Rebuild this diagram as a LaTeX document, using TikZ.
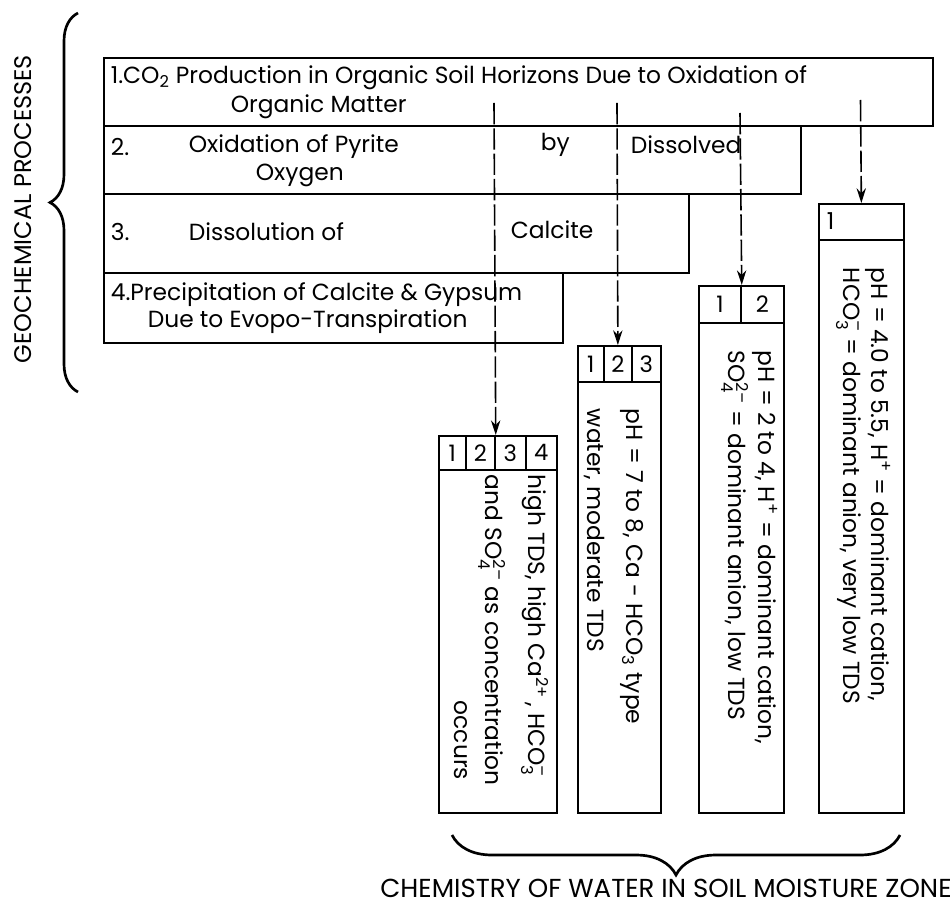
\documentclass[tikz,border=0pt]{standalone}
\usepackage{amsmath}
\usepackage{fontspec}
\setmainfont{Poppins}
\usetikzlibrary{arrows.meta, decorations.pathreplacing}

\newcommand{\px}{0.75pt}

\begin{document}
\begin{tikzpicture}[x=0.75pt, y=-0.75pt, line width=1.3pt,
    txt/.style={anchor=west, inner sep=0pt, font=\fontsize{17.5}{20}\selectfont},
    vtxt/.style={txt, rotate=-90},
    pbox/.style 2 args={draw, rectangle, anchor=north west, inner sep=0pt,
      minimum width=#1*\px, minimum height=#2*\px, font=\fontsize{17}{20}\selectfont},
    feed/.style={line width=1.2pt, dash pattern=on 16pt off 3pt, -{Stealth[length=11pt, width=7pt]}},
    bigbrace/.style={decorate, decoration={brace, amplitude=#1}, line width=2pt}]
  \useasboundingbox (0,0) rectangle (952,923);

  % Geochemical processes
  \node[pbox={829}{68}] (p1) at (103,57) {};
  \node[pbox={697}{68}] (p2) at (103,125) {};
  \node[pbox={585}{79}] (p3) at (103,193) {};
  \node[pbox={459}{70}] (p4) at (103,272) {};

  \node[txt] (p1a) at (110,78) {1.CO$_{\text{2}}$ Production in Organic Soil Horizons Due to Oxidation of};
  \node[txt] (p1b) at (230,107) {Organic Matter};
  \node[txt] (p2a) at (110,147) {2.};
  \node[txt] (p2b) at (188,147) {Oxidation of Pyrite};
  \node[txt] (p2c) at (540,145) {by};
  \node[txt] (p2d) at (630,145) {Dissolved};
  \node[txt] (p2e) at (255,175) {Oxygen};
  \node[txt] (p3a) at (110,232) {3.};
  \node[txt] (p3b) at (188,232) {Dissolution of};
  \node[txt] (p3c) at (510,230) {Calcite};
  \node[txt] (p4a) at (110,295) {4.Precipitation of Calcite \& Gypsum};
  \node[txt] (p4b) at (147,322) {Due to Evopo-Transpiration};

  % Water chemistry columns
  \node[pbox={27}{34}] (a1) at (438,435) {1};
  \node[pbox={29}{34}] (a2) at (465,435) {2};
  \node[pbox={31}{34}] (a3) at (494,435) {3};
  \node[pbox={31}{34}] (a4) at (525,435) {4};
  \node[pbox={118}{343}] (colA) at (438,469) {};

  \node[pbox={26}{36}] (b1) at (577,345) {1};
  \node[pbox={28}{36}] (b2) at (603,345) {2};
  \node[pbox={29}{36}] (b3) at (631,345) {3};
  \node[pbox={83}{431}] (colB) at (577,381) {};

  \node[pbox={42}{37}] (c1) at (698,285) {1};
  \node[pbox={43}{37}] (c2) at (740,285) {2};
  \node[pbox={85}{490}] (colC) at (698,322) {};

  \node[pbox={85}{36}] (d1) at (818,203) {};
  \node[txt] (d1n) at (826,221) {1};
  \node[pbox={85}{573}] (colD) at (818,239) {};

  \node[vtxt] (tA1) at (535,474) {high TDS, high Ca$^{\text{2+}}$\,, HCO$_{\text{3}}^{\text{–}}$};
  \node[vtxt] (tA2) at (492,474) {and SO$_{\text{4}}^{\text{2–}}$ as concentration};
  \node[vtxt] (tA3) at (461,700) {occurs};
  \node[vtxt] (tB1) at (632,408) {pH = 7 to 8, Ca - HCO$_{\text{3}}$ type};
  \node[vtxt] (tB2) at (594,408) {water, moderate TDS};
  \node[vtxt] (tC1) at (765,350) {pH = 2 to 4, H$^{\text{+}}$ = dominant cation,};
  \node[vtxt] (tC2) at (735,350) {SO$_{\text{4}}^{\text{2–}}$ = dominant anion, low TDS};
  \node[vtxt] (tD1) at (878,267) {pH = 4.0 to 5.5, H$^{\text{+}}$ = dominant cation,};
  \node[vtxt] (tD2) at (849,267) {HCO$_{\text{3}}^{\text{–}}$ = dominant anion, very low TDS};

  % Process to chemistry links
  \coordinate (fromA) at (494,103);
  \coordinate (fromB) at (617,103);
  \coordinate (fromC) at (740,113);
  \coordinate (fromD) at (860.5,100);
  \draw[feed] (fromA) -- (a2.north east);
  \draw[feed] (fromB) -- (b2.north);
  \draw[feed] (fromC) -- (c1.north east);
  \draw[feed] (fromD) -- (d1.north);

  % Braces and titles
  \coordinate (geoBot) at (78,392);
  \coordinate (geoTop) at (78,13);
  \draw[bigbrace=21pt] (geoBot) -- (geoTop);
  \node[txt, anchor=center, rotate=90, font=\fontsize{18}{20}\selectfont] (geoLbl) at (23,209) {GEOCHEMICAL PROCESSES};

  \coordinate (chemR) at (900,835);
  \coordinate (chemL) at (452,835);
  \draw[bigbrace=30pt] (chemR) -- (chemL);
  \node[txt, anchor=center, font=\fontsize{19.5}{22}\selectfont] (chemLbl) at (666,888) {CHEMISTRY OF WATER IN SOIL MOISTURE ZONE};
\end{tikzpicture}
\end{document}
